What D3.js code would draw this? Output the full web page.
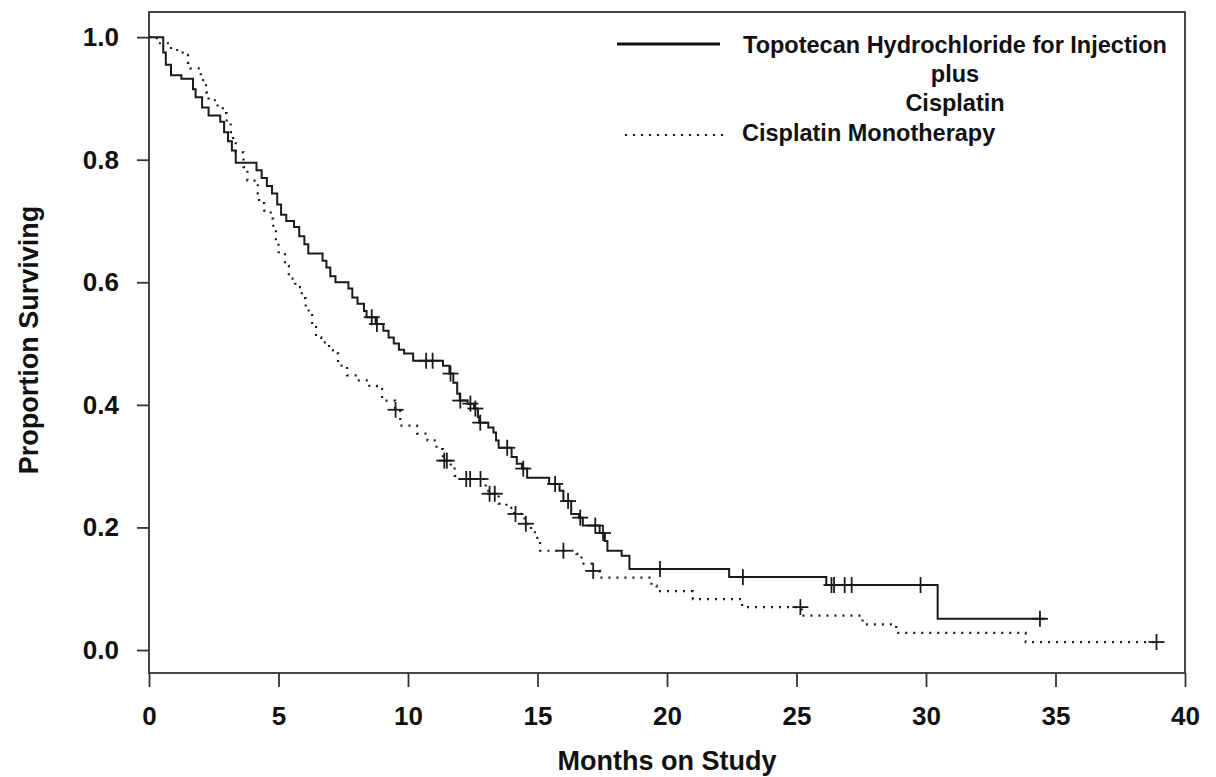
<!DOCTYPE html>
<html>
<head>
<meta charset="UTF-8">
<title>Proportion Surviving</title>
<script src="https://d3js.org/d3.v7.min.js"></script>
<style>
  body { margin: 0; background: #fff; }
  text { font-family: "Liberation Sans", Arial, sans-serif; font-weight: bold; fill: #111; }
</style>
</head>
<body>
<svg id="chart" width="1216" height="777"></svg>
<script>
// survival steps: [month, proportion after the drop]
const topoSteps = [[0,1.0],[0.55,0.975],[0.65,0.955],[0.85,0.938],[1.25,0.932],[1.7,0.915],[1.8,0.902],
  [2.05,0.885],[2.3,0.872],[2.75,0.862],[2.9,0.845],[3.05,0.83],[3.2,0.815],[3.35,0.795],[4.15,0.783],
  [4.35,0.77],[4.55,0.757],[4.75,0.745],[4.95,0.727],[5.1,0.71],[5.3,0.70],[5.6,0.69],[5.8,0.675],
  [6.0,0.662],[6.15,0.647],[6.7,0.635],[6.85,0.624],[7.0,0.61],[7.2,0.60],[7.7,0.59],[7.85,0.575],
  [8.05,0.565],[8.3,0.553],[8.4,0.543],[8.75,0.532],[9.05,0.521],[9.25,0.51],[9.45,0.50],[9.65,0.49],
  [9.85,0.484],[10.2,0.472],[11.35,0.464],[11.6,0.451],[11.75,0.436],[11.9,0.418],[12.0,0.407],
  [12.3,0.402],[12.55,0.394],[12.7,0.38],[12.75,0.371],[13.1,0.363],[13.3,0.355],[13.4,0.342],
  [13.5,0.33],[14.0,0.315],[14.2,0.304],[14.4,0.296],[14.6,0.281],[15.45,0.271],[15.85,0.26],
  [16.0,0.243],[16.3,0.222],[16.6,0.216],[16.75,0.203],[17.4,0.191],[17.6,0.178],[17.7,0.162],
  [18.25,0.154],[18.55,0.132],[22.4,0.119],[26.15,0.106],[30.45,0.051]];
const topoEnd = 34.6;
const topoCensor = [8.6,8.8,10.7,10.95,11.64,12.02,12.41,12.6,12.79,13.83,14.45,15.68,16.18,16.65,
  17.23,17.53,19.73,22.93,26.35,26.45,26.86,27.13,29.79,34.4];

const cispSteps = [[0,1.0],[0.3,0.99],[0.85,0.979],[1.3,0.971],[1.5,0.958],[1.6,0.949],[2.0,0.93],
  [2.2,0.91],[2.3,0.897],[2.65,0.886],[2.85,0.876],[3.0,0.86],[3.15,0.845],[3.25,0.83],[3.35,0.812],
  [3.65,0.788],[3.8,0.766],[4.2,0.745],[4.25,0.729],[4.45,0.717],[4.7,0.704],[4.8,0.69],[4.9,0.668],
  [5.0,0.649],[5.25,0.627],[5.4,0.606],[5.65,0.592],[5.9,0.574],[6.05,0.554],[6.3,0.529],[6.45,0.51],
  [6.65,0.502],[6.95,0.489],[7.1,0.484],[7.3,0.464],[7.65,0.448],[8.05,0.44],[8.45,0.431],[8.8,0.426],
  [9.0,0.407],[9.5,0.392],[9.7,0.366],[10.35,0.353],[10.75,0.342],[11.1,0.328],[11.35,0.309],
  [11.65,0.301],[11.8,0.284],[11.9,0.279],[13.0,0.265],[13.1,0.255],[13.5,0.239],[13.8,0.232],
  [14.1,0.222],[14.5,0.206],[14.75,0.194],[14.9,0.183],[15.1,0.162],[16.5,0.157],[16.7,0.141],
  [17.1,0.129],[17.4,0.118],[19.4,0.105],[19.6,0.096],[21.0,0.083],[22.9,0.07],[25.2,0.056],
  [27.55,0.042],[28.85,0.028],[33.85,0.013]];
const cispEnd = 38.92;
const cispCensor = [9.52,11.4,11.5,12.25,12.4,12.8,13.15,13.35,14.15,14.55,16.0,17.15,25.15,38.9];

const xTicks = [0,5,10,15,20,25,30,35,40];
const yTicks = [0,0.2,0.4,0.6,0.8,1.0];

const svg = d3.select("#chart");
const mLeft = 149, mRight = 1185, mTop = 12, mBottom = 673;

const x = d3.scaleLinear().domain([0,40]).range([mLeft,mRight]);
const y = d3.scaleLinear().domain([-0.0375,1.041]).range([mBottom,mTop]);

// frame
svg.append("rect").attr("x",mLeft).attr("y",mTop).attr("width",mRight-mLeft).attr("height",mBottom-mTop)
  .attr("fill","none").attr("stroke","#333").attr("stroke-width",1.8);

// axes
const xAxis = svg.append("g").attr("transform","translate(0,"+mBottom+")")
  .call(d3.axisBottom(x).tickValues(xTicks).tickSize(14).tickPadding(20).tickFormat(d3.format("d")));
const yAxis = svg.append("g").attr("transform","translate("+mLeft+",0)")
  .call(d3.axisLeft(y).tickValues(yTicks).tickSize(12).tickPadding(18).tickFormat(d3.format(".1f")));
[xAxis,yAxis].forEach(g=>{
  g.select(".domain").remove();
  g.selectAll(".tick line").attr("stroke","#333").attr("stroke-width",1.8);
  g.selectAll(".tick text").style("font-size","26px").style("font-family","Liberation Sans, Arial, sans-serif")
    .style("font-weight","bold").attr("fill","#111");
});

svg.append("text").attr("x",(mLeft+mRight)/2).attr("y",770).attr("text-anchor","middle")
  .style("font-size","27px").text("Months on Study");
svg.append("text").attr("transform","translate(38,"+340+") rotate(-90)").attr("text-anchor","middle")
  .style("font-size","27px").text("Proportion Surviving");

// step curves
const line = d3.line().x(d=>x(d[0])).y(d=>y(d[1])).curve(d3.curveStepAfter);
function survAt(steps,t){
  let s = steps[0][1];
  steps.forEach(d=>{ if (d[0] <= t) s = d[1]; });
  return s;
}
function drawCurve(steps,end,censor,dash,w){
  const pts = steps.concat([[end, steps[steps.length-1][1]]]);
  svg.append("path").datum(pts).attr("d",line).attr("fill","none")
    .attr("stroke","#1a1a1a").attr("stroke-width",w)
    .attr("stroke-dasharray",dash);
  const c = svg.append("g").selectAll("g").data(censor).enter().append("g")
    .attr("transform",t=>"translate("+x(t)+","+y(survAt(steps,t))+")");
  c.append("line").attr("x1",-8).attr("x2",8).attr("stroke","#1a1a1a").attr("stroke-width",1.8);
  c.append("line").attr("y1",-8).attr("y2",8).attr("stroke","#1a1a1a").attr("stroke-width",1.8);
}
drawCurve(topoSteps,topoEnd,topoCensor,null,2);
drawCurve(cispSteps,cispEnd,cispCensor,"2,6",2.2);

// legend
svg.append("line").attr("x1",617).attr("x2",720).attr("y1",44).attr("y2",44)
  .attr("stroke","#111").attr("stroke-width",3);
svg.append("line").attr("x1",625).attr("x2",723).attr("y1",135).attr("y2",135)
  .attr("stroke","#111").attr("stroke-width",2.2).attr("stroke-dasharray","2,6");
const legText = ["Topotecan Hydrochloride for Injection","plus","Cisplatin"];
svg.selectAll(".leg").data(legText).enter().append("text").attr("class","leg")
  .attr("x",955).attr("y",(d,i)=>53+i*29).attr("text-anchor","middle")
  .style("font-size","23.5px").text(d=>d);
svg.append("text").attr("x",742).attr("y",141).style("font-size","23.5px").text("Cisplatin Monotherapy");
</script>
</body>
</html>
